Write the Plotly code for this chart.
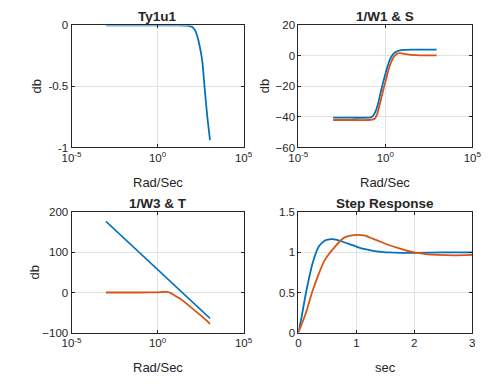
import plotly.graph_objects as go
from plotly.subplots import make_subplots

# ---------------- data ----------------
# Ty1u1 : log10(frequency) and magnitude in dB
ty_logw = [-3, -2, -1, 0, 1, 1.8, 2.0, 2.2, 2.32, 2.45, 2.6, 2.73, 2.88, 3.05]
ty_db = [0, 0, 0, 0, 0, -0.003, -0.012, -0.045, -0.093, -0.17, -0.29, -0.5, -0.73, -0.94]

# 1/W1 (blue) and S (orange)
w1_logw = [-3, -2, -1, -0.83, -0.7, -0.55, -0.4, -0.28, -0.14, 0, 0.14, 0.28, 0.45,
           0.64, 0.85, 1.0, 1.5, 2, 2.5, 2.95]
w1_db = [-40.5, -40.5, -40.5, -40.3, -39.2, -36, -30.5, -24.5, -18, -12, -6.5, -2, 1.2,
         2.8, 3.6, 3.9, 4.1, 4.1, 4.1, 4.1]
s_logw = [-3, -2, -1, -0.75, -0.6, -0.48, -0.37, -0.23, -0.09, 0.05, 0.18, 0.32, 0.46,
          0.62, 0.83, 1.0, 1.38, 2, 2.5, 2.95]
s_db = [-42, -42, -42, -41.8, -41, -38.5, -34, -27.5, -21, -15, -9.3, -4.5, -1,
        1, 1.8, 1.5, 0.8, 0.4, 0.3, 0.3]

# 1/W3 (blue) and T (orange)
w3_logw = [-3, 3.05]
w3_db = [177.5, -64.5]
t_logw = [-3, -1, 0, 0.3, 0.56, 0.75, 0.93, 1.2, 1.49, 1.77, 2.05, 2.33, 2.61, 2.85, 3.05]
t_db = [0, 0, 0.5, 1.2, 1.5, -1, -5.5, -12.5, -21, -31, -41, -51, -61, -70, -78]

# Step responses
step1_t = [0, 0.05, 0.13, 0.24, 0.35, 0.46, 0.57, 0.65, 0.74, 0.88, 1.01, 1.15, 1.29,
           1.43, 1.57, 1.8, 2.0, 2.5, 3.0]
step1_y = [0, 0.17, 0.49, 0.85, 1.07, 1.15, 1.165, 1.16, 1.14, 1.105, 1.07, 1.04, 1.02,
           1.008, 1.0, 0.995, 0.995, 1.0, 1.0]
step2_t = [0, 0.13, 0.24, 0.35, 0.46, 0.63, 0.79, 0.9, 1.01, 1.15, 1.29, 1.43, 1.57,
           1.7, 1.84, 2.0, 2.2, 2.4, 2.67, 3.0]
step2_y = [0, 0.245, 0.51, 0.73, 0.91, 1.07, 1.185, 1.21, 1.22, 1.21, 1.17, 1.13, 1.09,
           1.06, 1.03, 1.0, 0.98, 0.97, 0.964, 0.97]

titles = ["Ty1u1", "1/W1 & S", "1/W3 & T", "Step Response"]
log_tickvals = [1e-5, 1, 1e5]
log_ticktext = ["10<sup>-5</sup>", "10<sup>0</sup>", "10<sup>5</sup>"]

BLUE = "#0072BD"
ORANGE = "#D95319"
TXT = "#262626"
FONT = "Liberation Sans, Arial, sans-serif"
W, H = 489, 387


def hz(lw):
    return [10 ** v for v in lw]


fig = make_subplots(rows=2, cols=2)

line_kw = dict(shape="spline", smoothing=0.6, width=1.8)
fig.add_trace(go.Scatter(x=hz(ty_logw), y=ty_db, mode="lines",
                         line=dict(color=BLUE, **line_kw)), row=1, col=1)
fig.add_trace(go.Scatter(x=hz(w1_logw), y=w1_db, mode="lines",
                         line=dict(color=BLUE, **line_kw)), row=1, col=2)
fig.add_trace(go.Scatter(x=hz(s_logw), y=s_db, mode="lines",
                         line=dict(color=ORANGE, **line_kw)), row=1, col=2)
fig.add_trace(go.Scatter(x=hz(w3_logw), y=w3_db, mode="lines",
                         line=dict(color=BLUE, width=1.5)), row=2, col=1)
fig.add_trace(go.Scatter(x=hz(t_logw), y=t_db, mode="lines",
                         line=dict(color=ORANGE, **line_kw)), row=2, col=1)
fig.add_trace(go.Scatter(x=step1_t, y=step1_y, mode="lines",
                         line=dict(color=BLUE, **line_kw)), row=2, col=2)
fig.add_trace(go.Scatter(x=step2_t, y=step2_y, mode="lines",
                         line=dict(color=ORANGE, **line_kw)), row=2, col=2)

# plot frames in pixels: (left, right, top, bottom)
boxes = [(64, 243, 20, 146), (300, 481, 20, 146), (64, 243, 213, 337), (300, 481, 213, 337)]

common = dict(showgrid=True, gridcolor="#e2e2e2", gridwidth=1, showline=True,
              linecolor=TXT, linewidth=1, mirror="allticks", ticks="inside",
              ticklen=3, tickcolor=TXT, zeroline=False,
              tickfont=dict(family=FONT, size=11.5, color=TXT))

yspecs = [
    dict(range=[-1, 0], tickvals=[-1, -0.5, 0], ticktext=["-1", "-0.5", "0"]),
    dict(range=[-60, 20], tickvals=[-60, -40, -20, 0, 20]),
    dict(range=[-100, 200], tickvals=[-100, 0, 100, 200]),
    dict(range=[0, 1.5], tickvals=[0, 0.5, 1, 1.5], ticktext=["0", "0.5", "1", "1.5"]),
]

for i, (l, r, t, b) in enumerate(boxes):
    n = "" if i == 0 else str(i + 1)
    xd = [l / W, r / W]
    yd = [1 - b / H, 1 - t / H]
    if i < 3:
        xs = dict(type="log", range=[-5, 5], tickvals=log_tickvals, ticktext=log_ticktext)
    else:
        xs = dict(range=[0, 3], tickvals=[0, 1, 2, 3])
    fig.layout["xaxis" + n].update(domain=xd, **xs, **common)
    fig.layout["yaxis" + n].update(domain=yd, **yspecs[i], **common)

ann = []
for i, (l, r, t, b) in enumerate(boxes):
    cx = (l + r) / 2 / W
    ann.append(dict(text="<b>" + titles[i] + "</b>", x=cx, y=1 - t / H, xref="paper",
                    yref="paper", xanchor="center", yanchor="bottom", showarrow=False,
                    font=dict(family=FONT, size=13.5, color=TXT), yshift=-1))
    xlabel = "sec" if i == 3 else "Rad/Sec"
    ann.append(dict(text=xlabel, x=cx, y=1 - (b + 36) / H, xref="paper", yref="paper",
                    xanchor="center", yanchor="middle", showarrow=False,
                    font=dict(family=FONT, size=13, color=TXT)))
    if i < 3:
        ylx = {0: 27, 1: 265, 2: 25}[i]
        ann.append(dict(text="db", x=ylx / W, y=1 - (t + b) / 2 / H, xref="paper",
                        yref="paper", xanchor="center", yanchor="middle", textangle=-90,
                        showarrow=False, font=dict(family=FONT, size=13, color=TXT)))

fig.update_layout(width=W, height=H, margin=dict(l=0, r=0, t=0, b=0),
                  paper_bgcolor="white", plot_bgcolor="white", showlegend=False,
                  annotations=ann, font=dict(family=FONT, color=TXT))

fig.write_html("out.html", config={"displayModeBar": False},
               post_script="document.body.style.margin='0';"
                           "document.body.style.overflow='hidden';")
